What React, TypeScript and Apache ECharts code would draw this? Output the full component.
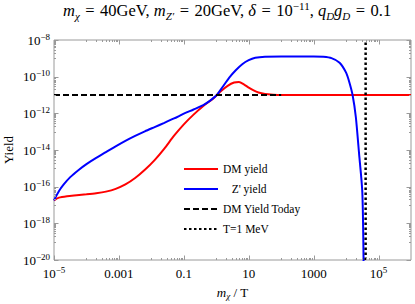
import React, { useEffect, useRef } from 'react';
import * as echarts from 'echarts';

const dmLogX = [-5, -4.85, -4.6, -4.3, -4.0, -3.7, -3.4, -3.1, -2.8, -2.5, -2.2, -1.9, -1.6, -1.3, -1.0, -0.7, -0.4, -0.1, 0.15, 0.35, 0.55, 0.7, 0.85, 1.0, 1.15, 1.3, 1.5, 1.75, 2.0, 6.0];
const dmLogY = [-16.75, -16.6, -16.52, -16.47, -16.42, -16.36, -16.27, -16.12, -15.88, -15.53, -15.08, -14.55, -13.92, -13.22, -12.6, -12.07, -11.6, -11.2, -10.78, -10.5, -10.32, -10.29, -10.42, -10.6, -10.75, -10.86, -10.94, -10.98, -11.0, -11.0];

const zLogX = [-5, -4.85, -4.7, -4.5, -4.25, -4.0, -3.7, -3.4, -3.1, -2.8, -2.5, -2.2, -1.9, -1.6, -1.3, -1.0, -0.7, -0.4, -0.2, 0, 0.2, 0.4, 0.6, 0.8, 1.0, 1.2, 1.5, 2, 2.5, 3, 3.3, 3.55, 3.8, 4.0, 4.1, 4.2, 4.3, 4.4, 4.5, 4.54];
const zLogY = [-16.75, -16.25, -15.88, -15.48, -15.1, -14.77, -14.43, -14.12, -13.8, -13.5, -13.23, -12.98, -12.75, -12.52, -12.28, -12.02, -11.79, -11.55, -11.32, -11.03, -10.55, -10.05, -9.65, -9.32, -9.1, -8.97, -8.91, -8.9, -8.9, -8.9, -8.92, -8.99, -9.24, -9.78, -10.3, -11.0, -12.2, -14.2, -16.3, -20.3];

const todayYield = 1e-11;
const todayRange = [1e-5, 100];
const mevX = 4e4; // m_chi / T at T = 1 MeV
const yRange = [1e-20, 1e-8];
const xRange = [1e-5, 1e6];

const seriesNames = ['DM yield', "Z' yield", 'DM Yield Today', 'T=1 MeV'];

const FONT = 'Liberation Serif';
const GRAY = '#9a9a9a';

const toPairs = (lx: number[], ly: number[]) => lx.map((v, i) => [Math.pow(10, v), Math.pow(10, ly[i])]);

const minus = '\u2212';
const sup = (e: number) => `${e < 0 ? minus : ''}${Math.abs(e)}`;
const EQ = '\u2004=\u2004';

export default function App() {
  const ref = useRef<HTMLDivElement>(null);
  useEffect(() => {
    if (!ref.current) return;
    const chart = echarts.init(ref.current, undefined, { renderer: 'svg' });

    const lx = [Math.log10(xRange[0]), Math.log10(xRange[1])];
    const ly = [Math.log10(yRange[0]), Math.log10(yRange[1])];
    const xTicks: { v: number; len: number }[] = [];
    for (let e = Math.ceil(lx[0]); e <= lx[1]; e += 2) {
      xTicks.push({ v: Math.pow(10, e), len: 4.5 });
      for (let j = 1; j <= 9; j++) {
        const v = j * Math.pow(10, e - 1);
        if (v > xRange[0]) xTicks.push({ v, len: 2 });
      }
    }
    const yTicks: { v: number; len: number }[] = [];
    for (let e = Math.ceil(ly[0]); e <= ly[1]; e += 2) {
      yTicks.push({ v: Math.pow(10, e), len: 4.5 });
      for (let j = 1; j <= 9; j++) {
        const v = j * Math.pow(10, e - 1);
        if (v > yRange[0]) yTicks.push({ v, len: 2 });
      }
    }

    const baseRich = {
      n: { fontFamily: FONT, fontSize: 13, color: '#000', lineHeight: 16 },
      sup: { fontFamily: FONT, fontSize: 9, color: '#000', lineHeight: 9, verticalAlign: 'top' as const },
    };
    const TS = 16.5;
    const TSS = 11;

    const option: any = {
      animation: false,
      title: {
        text: `{i|m}{sub|\u03c7}{r|${EQ}40GeV, }{i|m}{sub|Z\u2032}{r|${EQ}20GeV, }{i|\u03b4}{r|${EQ}10}{sup|\u221211}{r|, }{i|q}{sub|D}{i|g}{sub|D}{r|${EQ}0.1}`,
        left: 63,
        top: 0,
        padding: 0,
        textStyle: {
          fontWeight: 'normal',
          fontFamily: FONT,
          rich: {
            r: { fontFamily: FONT, fontSize: TS, fontWeight: 'normal', color: '#000', lineHeight: 21 },
            i: { fontFamily: FONT, fontSize: TS, fontWeight: 'normal', fontStyle: 'italic', color: '#000', lineHeight: 21 },
            sub: { fontFamily: FONT, fontSize: TSS, fontWeight: 'normal', fontStyle: 'italic', color: '#000', lineHeight: 13, verticalAlign: 'bottom' },
            sup: { fontFamily: FONT, fontSize: TSS, fontWeight: 'normal', color: '#000', lineHeight: 13, verticalAlign: 'top' },
          },
        },
      },
      grid: {
        left: 54, right: 4, top: 40, bottom: 44,
        show: true, borderColor: GRAY, borderWidth: 1,
        containLabel: false, outerBoundsMode: 'none',
      },
      legend: {
        data: seriesNames,
        orient: 'vertical',
        left: 183,
        top: 163,
        padding: 0,
        itemWidth: 34,
        itemHeight: 10,
        itemGap: 8,
        itemStyle: { opacity: 0 },
        formatter: (n: string) => (n === "Z' yield" ? '   ' + n : n),
        textStyle: { fontFamily: FONT, fontSize: 11.5, color: '#000' },
      },
      xAxis: {
        type: 'log', logBase: 10, min: xRange[0], max: xRange[1], interval: 2,
        axisLine: { show: false }, axisTick: { show: false }, splitLine: { show: false },
        axisLabel: {
          showMinLabel: true, showMaxLabel: false, margin: 5, lineHeight: 16,
          fontFamily: FONT, fontSize: 13, color: '#000',
          formatter: (v: number) => {
            const e = Math.round(Math.log10(v));
            if (e === -5 || e === 5) return `{n|10}{sup|${sup(e)}}`;
            if (e === -3) return '{n|0.001}';
            if (e === -1) return '{n|0.1}';
            if (e === 1) return '{n|10}';
            if (e === 3) return '{n|1000}';
            return '';
          },
          rich: baseRich,
        },
        name: '{i|m}{sub|\u03c7}{r| / T}',
        nameLocation: 'middle',
        nameGap: 24,
        nameTextStyle: {
          rich: {
            r: { fontFamily: FONT, fontSize: 13, color: '#000', lineHeight: 16 },
            i: { fontFamily: FONT, fontSize: 13, fontStyle: 'italic', color: '#000', lineHeight: 16 },
            sub: { fontFamily: FONT, fontSize: 9, fontStyle: 'italic', color: '#000', lineHeight: 10, verticalAlign: 'bottom' },
          },
        },
      },
      yAxis: {
        type: 'log', logBase: 10, min: yRange[0], max: yRange[1], interval: 2,
        axisLine: { show: false }, axisTick: { show: false }, splitLine: { show: false },
        axisLabel: {
          showMinLabel: true, showMaxLabel: true, margin: 4,
          fontFamily: FONT, fontSize: 13, color: '#000',
          formatter: (v: number) => `{n|10}{sup|${sup(Math.round(Math.log10(v)))}}`,
          rich: baseRich,
        },
        name: 'Yield',
        nameLocation: 'middle',
        nameGap: 39,
        nameMoveOverlap: false,
        nameTextStyle: { fontFamily: FONT, fontSize: 13, color: '#000' },
      },
      series: [
        {
          name: seriesNames[0], type: 'line', data: toPairs(dmLogX, dmLogY),
          showSymbol: false, symbol: 'none', smooth: 0.25,
          lineStyle: { color: '#ff0000', width: 2 }, itemStyle: { color: '#ff0000' },
        },
        {
          name: seriesNames[1], type: 'line', data: toPairs(zLogX, zLogY),
          showSymbol: false, symbol: 'none', smooth: 0.25,
          lineStyle: { color: '#0000ff', width: 2 }, itemStyle: { color: '#0000ff' },
        },
        {
          name: seriesNames[2], type: 'line',
          data: [[todayRange[0], todayYield], [todayRange[1], todayYield]],
          showSymbol: false, symbol: 'none',
          lineStyle: { color: '#000', width: 2, type: [6, 3] }, itemStyle: { color: '#000' },
        },
        {
          name: seriesNames[3], type: 'line',
          data: [[mevX, yRange[0]], [mevX, yRange[1]]],
          showSymbol: false, symbol: 'none',
          lineStyle: { color: '#000', width: 2.5, type: [2.5, 2.5] }, itemStyle: { color: '#000' },
        },
        {
          type: 'custom', coordinateSystem: 'cartesian2d', silent: true, clip: false, z: 5,
          data: [[1, 1e-14]],
          renderItem: (params: any, api: any) => {
            const cs = params.coordSys;
            const left = cs.x, top = cs.y, right = cs.x + cs.width, bottom = cs.y + cs.height;
            const style = { stroke: GRAY, lineWidth: 1, fill: null };
            const children: any[] = [];
            for (const t of xTicks) {
              const px = Math.round(api.coord([t.v, 1e-14])[0]) + 0.5;
              children.push({ type: 'line', shape: { x1: px, y1: bottom, x2: px, y2: bottom - t.len }, style });
              children.push({ type: 'line', shape: { x1: px, y1: top, x2: px, y2: top + t.len }, style });
            }
            for (const t of yTicks) {
              const py = Math.round(api.coord([1, t.v])[1]) + 0.5;
              children.push({ type: 'line', shape: { x1: left, y1: py, x2: left + t.len, y2: py }, style });
              children.push({ type: 'line', shape: { x1: right, y1: py, x2: right - t.len, y2: py }, style });
            }
            return { type: 'group', children };
          },
        },
      ],
    };
    chart.setOption(option);
    return () => chart.dispose();
  }, []);
  return <div ref={ref} style={{ position: 'fixed', left: 0, top: 0, width: 415, height: 304, background: '#fff' }} />;
}
